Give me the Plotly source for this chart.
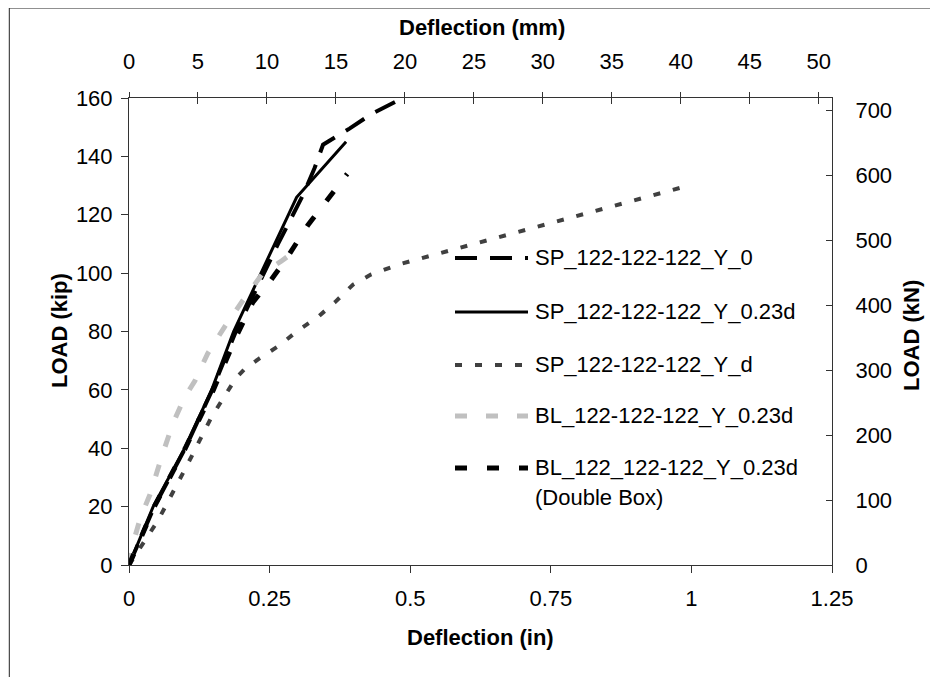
import plotly.graph_objects as go

# ---------------- data (deflection in inches, load in kip) ----------------
sp_y0_x = [0, 0.045, 0.10, 0.148, 0.19, 0.235, 0.265, 0.31, 0.33, 0.345, 0.392, 0.431, 0.487]
sp_y0_y = [0, 20, 40, 60, 80, 98, 110, 127, 136, 144, 149.5, 154.5, 160]

sp_023_x = [0, 0.043, 0.099, 0.147, 0.186, 0.225, 0.26, 0.298, 0.386]
sp_023_y = [0, 20, 40, 60, 80, 96, 110, 126, 145]

sp_d_x = [0, 0.052, 0.102, 0.147, 0.19, 0.205, 0.232, 0.268, 0.298, 0.336, 0.366, 0.398, 0.43, 0.48, 0.995]
sp_d_y = [0, 15.4, 33.7, 50.8, 64, 67, 70.8, 75.3, 80, 85, 90, 96, 99.5, 103, 130]

bl_x = [0, 0.008, 0.02, 0.037, 0.058, 0.078, 0.099, 0.117, 0.14, 0.17, 0.203, 0.238, 0.27, 0.302]
bl_y = [0, 8, 16, 24, 37, 48.5, 57.5, 63, 72.5, 81.6, 90.8, 100, 104, 108.5]

db_x = [0, 0.045, 0.10, 0.15, 0.19, 0.22, 0.25, 0.28, 0.318, 0.357, 0.388]
db_y = [0, 20, 40, 60, 78, 90, 97, 105, 116.4, 126, 134]

names = ["SP_122-122-122_Y_0", "SP_122-122-122_Y_0.23d", "SP_122-122-122_Y_d",
         "BL_122-122-122_Y_0.23d", "BL_122_122-122_Y_0.23d"]
name_extra = "(Double Box)"

in_ticks = [0, 0.25, 0.5, 0.75, 1, 1.25]
in_labels = ["0", "0.25", "0.5", "0.75", "1", "1.25"]
mm_ticks = [0, 5, 10, 15, 20, 25, 30, 35, 40, 45, 50]
kip_ticks = [0, 20, 40, 60, 80, 100, 120, 140, 160]
kn_ticks = [0, 100, 200, 300, 400, 500, 600, 700]

# ---------------- styles ----------------
styles = [
    dict(color="#000000", width=4, dash="22px,13px"),
    dict(color="#000000", width=3, dash="solid"),
    dict(color="#404040", width=4, dash="7px,13px"),
    dict(color="#C0C0C0", width=5, dash="12px,19px"),
    dict(color="#000000", width=5, dash="12px,20px"),
]
series = [(sp_y0_x, sp_y0_y), (sp_023_x, sp_023_y), (sp_d_x, sp_d_y), (bl_x, bl_y), (db_x, db_y)]

FONT = "Liberation Sans, Arial, sans-serif"
AX = "#333333"

fig = go.Figure()
for (xs, ys), st, nm in zip(series, styles, names):
    fig.add_trace(go.Scatter(x=xs, y=ys, mode="lines", name=nm, line=st,
                             showlegend=False, hoverinfo="skip"))
# anchor traces for the secondary axes
fig.add_trace(go.Scatter(x=[None], y=[None], xaxis="x2", yaxis="y2", showlegend=False, hoverinfo="skip"))
fig.add_trace(go.Scatter(x=[None], y=[None], xaxis="x3", yaxis="y2", showlegend=False, hoverinfo="skip"))

OFF = 8  # page body margin
FW, FH = 938 - OFF, 677 - OFF
L, T, W, H = 121, 90, 703, 467


def px(x):
    return (x - OFF - L) / W


def py(y):
    return (T + H - (y - OFF)) / H


tickfont = dict(family=FONT, size=22, color="#000000")
fig.update_layout(
    width=FW, height=FH,
    margin=dict(l=L, r=FW - L - W, t=T, b=FH - T - H, pad=0),
    plot_bgcolor="white", paper_bgcolor="white",
    xaxis=dict(range=[0, 1.25], tickvals=in_ticks, ticktext=in_labels, showgrid=False,
               zeroline=False, showline=True, linecolor=AX, linewidth=1, ticks="outside",
               ticklen=7, tickcolor=AX, tickfont=tickfont, ticklabelstandoff=7),
    xaxis2=dict(range=[0, 50.96], tickvals=mm_ticks, overlaying="x", side="top", anchor="y",
                showgrid=False, zeroline=False, showline=True, linecolor=AX, linewidth=1,
                ticks="outside", ticklen=5, tickcolor=AX, tickfont=tickfont, ticklabelstandoff=14),
    xaxis3=dict(range=[0, 50.96], tickvals=mm_ticks, overlaying="x", side="top", anchor="y",
                showgrid=False, zeroline=False, showline=False, ticks="inside", ticklen=6,
                tickcolor=AX, showticklabels=False),
    yaxis=dict(range=[0, 160], tickvals=kip_ticks, showgrid=False, zeroline=False, showline=True,
               linecolor=AX, linewidth=1, ticks="outside", ticklen=7, tickcolor=AX,
               tickfont=tickfont, ticklabelstandoff=4),
    yaxis2=dict(range=[0, 719], tickvals=kn_ticks, overlaying="y", side="right", anchor="x",
                showgrid=False, zeroline=False, showline=True, linecolor=AX, linewidth=1,
                ticks="inside", ticklen=6, tickcolor=AX, tickfont=tickfont, ticklabelstandoff=18),
)

# outer chart frame (left and top edges visible in the reference)
frame = dict(color="#222222", width=1)
fig.add_shape(type="line", xref="paper", yref="paper", x0=px(9.3), x1=px(9.3), y0=py(OFF + FH), y1=py(8),
              line=frame, layer="below")
fig.add_shape(type="line", xref="paper", yref="paper", x0=px(9.3), x1=px(OFF + FW), y0=py(8), y1=py(8),
              line=frame, layer="below")

titlefont = dict(family=FONT, size=22, color="#000000")


def ann(text, x, y, angle=0, xanchor="center"):
    fig.add_annotation(text=text, xref="paper", yref="paper", x=px(x), y=py(y), showarrow=False,
                       textangle=angle, xanchor=xanchor, yanchor="middle", font=titlefont)


ann("<b>Deflection (mm)</b>", 482, 28)
ann("<b>Deflection (in)</b>", 480, 637)
ann("<b>LOAD (kip)</b>", 59, 331, angle=-90)
ann("<b>LOAD (kN)</b>", 911, 336, angle=-90)

# manual legend
leg_y = [258, 312, 365, 416, 468]
for yy, st, tx in zip(leg_y, styles, names):
    fig.add_shape(type="line", xref="paper", yref="paper", x0=px(455), x1=px(528), y0=py(yy), y1=py(yy),
                  line=dict(color=st["color"], width=st["width"], dash=st["dash"]))
    ann(tx, 533, yy - 1, xanchor="left")
ann(name_extra, 533, 497, xanchor="left")

fig.write_html("out.html")
